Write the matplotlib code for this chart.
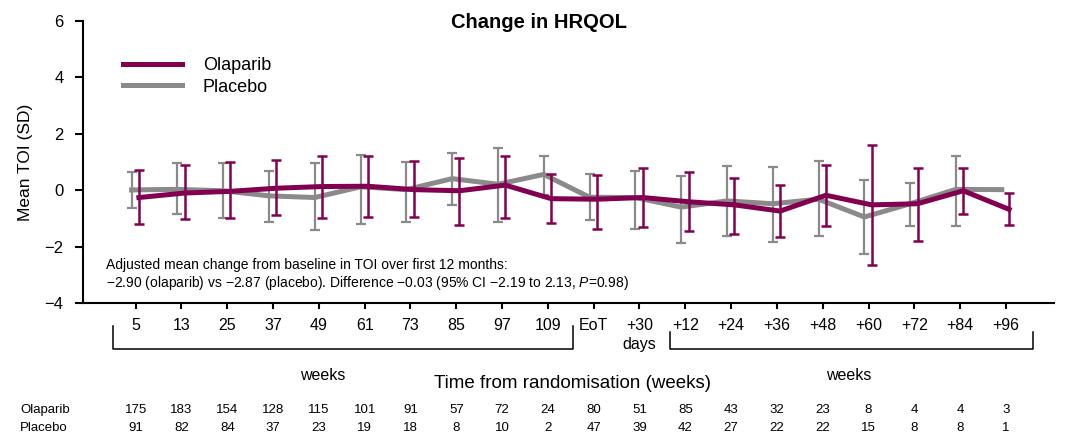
import numpy as np
import matplotlib
matplotlib.use("Agg")
import matplotlib.pyplot as plt
import matplotlib.transforms as mtransforms

plt.rcParams['font.family'] = ['Liberation Sans', 'DejaVu Sans']
plt.rcParams['mathtext.fontset'] = 'custom'
plt.rcParams['mathtext.it'] = 'Liberation Sans:italic'
plt.rcParams['mathtext.rm'] = 'Liberation Sans'

# data
tick_labels = ["5", "13", "25", "37", "49", "61", "73", "85", "97", "109",
               "EoT", "+30", "+12", "+24", "+36", "+48", "+60", "+72", "+84", "+96"]

olap_mean = [-0.26, -0.10, -0.04, 0.07, 0.13, 0.14, 0.02, -0.02, 0.18, -0.30,
             -0.32, -0.26, -0.41, -0.52, -0.74, -0.18, -0.52, -0.48, -0.02, -0.68]
olap_hi = [0.71, 0.89, 1.00, 1.07, 1.21, 1.21, 1.02, 1.14, 1.21, 0.57,
           0.55, 0.79, 0.66, 0.43, 0.18, 0.89, 1.60, 0.79, 0.79, -0.10]
olap_lo = [-1.21, -1.01, -0.98, -0.88, -1.00, -0.94, -0.95, -1.25, -0.98, -1.16,
           -1.36, -1.30, -1.45, -1.55, -1.67, -1.28, -2.67, -1.81, -0.86, -1.25]

plac_mean = [0.01, 0.03, -0.02, -0.20, -0.26, 0.12, 0.02, 0.41, 0.21, 0.56,
             -0.25, -0.26, -0.60, -0.38, -0.48, -0.32, -0.95, -0.48, 0.03, 0.02]
plac_hi = [0.63, 0.95, 0.96, 0.68, 0.95, 1.25, 0.99, 1.31, 1.50, 1.21,
           0.59, 0.69, 0.49, 0.87, 0.81, 1.05, 0.36, 0.25, 1.22, np.nan]
plac_lo = [-0.64, -0.86, -1.00, -1.12, -1.42, -1.20, -1.12, -0.54, -1.12, -0.17,
           -1.07, -1.36, -1.87, -1.63, -1.85, -1.61, -2.26, -1.28, -1.28, np.nan]

n_olap = [175, 183, 154, 128, 115, 101, 91, 57, 72, 24, 80, 51, 85, 43, 32, 23, 8, 4, 4, 3]
n_plac = [91, 82, 84, 37, 23, 19, 18, 8, 10, 2, 47, 39, 42, 27, 22, 22, 15, 8, 8, 1]

PURPLE = "#820050"
GRAY = "#8a8a8a"

W, H = 1066, 446
fig = plt.figure(figsize=(W / 100, H / 100), dpi=100)
ax = fig.add_axes([83 / W, 1 - 303 / H, (1054 - 83) / W, (303 - 21) / H])

x = np.arange(len(tick_labels))
pm = np.array(plac_mean)
om = np.array(olap_mean)
p_err = [pm - np.array(plac_lo), np.array(plac_hi) - pm]
o_err = [om - np.array(olap_lo), np.array(olap_hi) - om]

ax.errorbar(x - 0.09, pm, yerr=p_err, color=GRAY, lw=3.6, elinewidth=1.6,
            capsize=3.6, capthick=1.6, label="Placebo", zorder=2)
ax.errorbar(x + 0.07, om, yerr=o_err, color=PURPLE, lw=3.6, elinewidth=1.8,
            capsize=3.6, capthick=1.8, label="Olaparib", zorder=3)

ax.set_xlim(-1.15, 20.05)
ax.set_ylim(-4, 6)
ax.set_yticks([-4, -2, 0, 2, 4, 6])
ax.set_yticklabels(["\u22124", "\u22122", "0", "2", "4", "6"])
ax.set_xticks(x)
ax.set_xticklabels(tick_labels)
ax.tick_params(axis='y', labelsize=12, length=6, width=1.5, pad=8)
ax.tick_params(axis='x', labelsize=11.5, length=4, width=1.5, pad=7)
for s in ["top", "right"]:
    ax.spines[s].set_visible(False)
for s in ["left", "bottom"]:
    ax.spines[s].set_linewidth(1.5)
ax.set_ylabel("Mean TOI (SD)", fontsize=12.5, labelpad=8)

# legend drawn by hand to match layout
fig.lines.append(plt.Line2D([123 / W, 182 / W], [1 - 64 / H, 1 - 64 / H],
                            color=PURPLE, lw=3.6, transform=fig.transFigure))
fig.lines.append(plt.Line2D([123 / W, 182 / W], [1 - 84.5 / H, 1 - 84.5 / H],
                            color=GRAY, lw=3.6, transform=fig.transFigure))
fig.text(203 / W, 1 - 66 / H, "Olaparib", fontsize=13, va='center')
fig.text(203 / W, 1 - 87 / H, "Placebo", fontsize=13, va='center')

fig.text(539 / W, 1 - 22 / H, "Change in HRQOL", fontsize=14.5,
         fontweight='bold', ha='center', va='center')

fig.text(106 / W, 1 - 265 / H,
         "Adjusted mean change from baseline in TOI over first 12 months:",
         fontsize=10, va='center')
fig.text(106 / W, 1 - 283 / H,
         "\u22122.90 (olaparib) vs \u22122.87 (placebo). Difference \u22120.03 "
         "(95% CI \u22122.19 to 2.13, $P$=0.98)",
         fontsize=10, va='center')

# brackets and labels beneath the axis
bt = mtransforms.blended_transform_factory(ax.transData, fig.transFigure)
y_bot = 1 - 349 / H
ax.plot([-0.5, -0.5, 9.54, 9.54], [1 - 326 / H, y_bot, y_bot, 1 - 326 / H],
        color="black", lw=1.1, transform=bt, clip_on=False)
ax.plot([11.67, 11.67, 19.6, 19.6], [1 - 332 / H, y_bot, y_bot, 1 - 332 / H],
        color="black", lw=1.1, transform=bt, clip_on=False)
ax.text(11, 1 - 345 / H, "days", fontsize=11.5, ha='center', va='center', transform=bt)
ax.text(4.09, 1 - 375 / H, "weeks", fontsize=11.5, ha='center', va='center', transform=bt)
ax.text(15.56, 1 - 375 / H, "weeks", fontsize=11.5, ha='center', va='center', transform=bt)
fig.text(572 / W, 1 - 384 / H, "Time from randomisation (weeks)", fontsize=13.5,
         ha='center', va='center')

# numbers at risk
fig.text(20 / W, 1 - 410 / H, "Olaparib", fontsize=9.5, va='center')
fig.text(20 / W, 1 - 428 / H, "Placebo", fontsize=9.5, va='center')
for i in range(len(tick_labels)):
    ax.text(i, 1 - 410 / H, str(n_olap[i]), fontsize=9.5,
            ha='center', va='center', transform=bt)
    ax.text(i, 1 - 428 / H, str(n_plac[i]), fontsize=9.5,
            ha='center', va='center', transform=bt)

fig.savefig("out.png", dpi=100)
